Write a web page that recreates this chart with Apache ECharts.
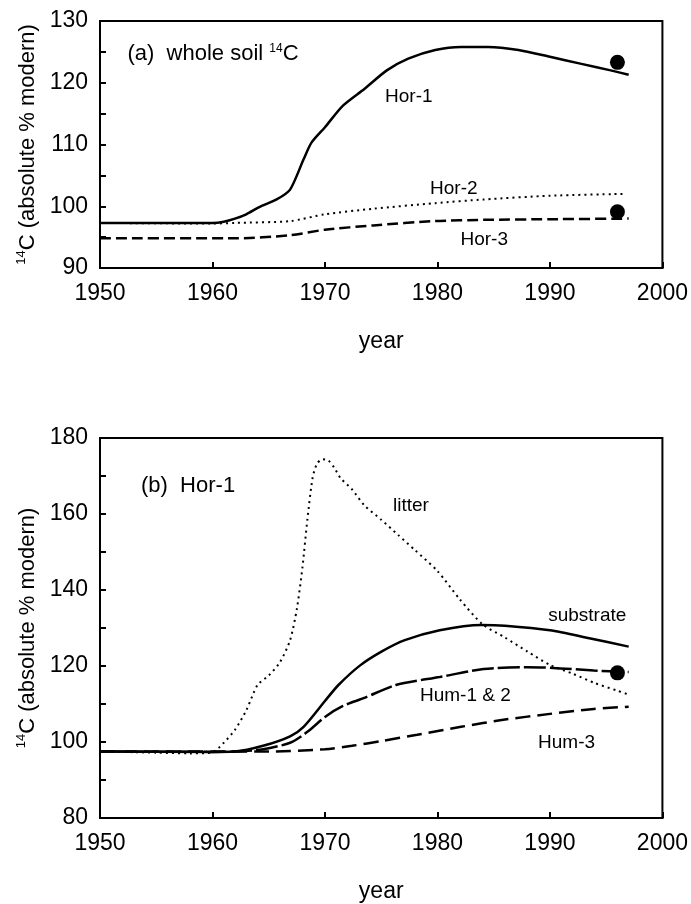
<!DOCTYPE html>
<html><head><meta charset="utf-8">
<script src="https://cdn.jsdelivr.net/npm/echarts@6/dist/echarts.min.js"></script>
<style>html,body{margin:0;padding:0;background:#fff}#c{width:691px;height:904px}</style>
</head><body><div id="c"></div>
<script>
// ---- Panel (a): whole soil 14C ----
var hor1X = [1950,1955,1960,1961,1962,1963,1964.2,1965.7,1966.9,1968.1,1968.8,1970,1971.6,1973.5,1975.5,1977.4,1979.8,1982.1,1984.5,1987.2,1990,1992.7,1995.4,1997];
var hor1Y = [97.3,97.3,97.3,97.5,98.0,98.7,99.9,101.1,102.7,107.6,110.3,112.8,116.3,119,122,123.9,125.3,125.8,125.8,125.3,124.2,123.1,122,121.3];
var hor2X = [1950,1960,1962,1966.9,1970,1974.3,1979.8,1984.1,1990,1996.5];
var hor2Y = [97.3,97.2,97.3,97.6,98.7,99.6,100.5,101.1,101.7,102.0];
var hor3X = [1950,1962,1966.9,1970,1974.3,1979.8,1984.1,1990,1997];
var hor3Y = [94.8,94.8,95.3,96.2,96.9,97.6,97.8,97.9,98.0];
var obsAX = [1996,1996];
var obsAY = [123.3,99.1];
var labelsA = [[1952.4,124.7,'(a)  whole soil {s|14}C','big'],[1975.3,117.8,'Hor-1','small'],[1979.3,102.8,'Hor-2','small'],[1982.0,94.6,'Hor-3','small']];

// ---- Panel (b): Hor-1 ----
var litX = [1950,1955,1958,1960,1961,1962,1963,1964,1965,1966,1966.9,1967.5,1968,1968.45,1968.9,1969.3,1969.8,1970.3,1970.8,1971.4,1972.4,1973.5,1975,1976.5,1978,1980,1982,1984,1986,1988,1990,1992,1994,1996,1997];
var litY = [97.5,97.2,97.0,97.3,99.8,103.2,108.3,115,117.5,121,126.8,135,146,158.9,169.5,173.3,174.4,174.1,172.3,169.4,166.5,162.3,158.5,154.5,150.5,145,137.5,131,127.5,123.8,120.3,118,115.5,113.5,112.5];
var subX = [1950,1960,1962,1964.5,1966.9,1968.1,1970,1971.2,1973.1,1975.1,1977.1,1980.2,1983.9,1986,1990,1993.5,1997];
var subY = [97.5,97.4,97.5,99.0,101.5,104,110.8,115,120.1,123.9,126.8,129.4,130.8,130.6,129.4,127.3,125.1];
var humX = [1950,1960,1962,1964.5,1966.9,1968.5,1970,1971.6,1973.5,1976.3,1980.2,1984.1,1988,1990.3,1993.9,1997];
var humY = [97.5,97.4,97.5,98.1,99.8,102.8,106.6,109.5,111.6,115,117.1,119.2,119.7,119.5,118.8,118.4];
var hum3X = [1950,1965,1970,1972.4,1975.1,1978.2,1982.1,1986,1990,1993.9,1997];
var hum3Y = [97.5,97.5,98.1,99.0,100.3,101.9,104,105.9,107.4,108.7,109.3];
var obsBX = [1996];
var obsBY = [118.2];
var labelsB = [[1953.6,167.3,'(b)  Hor-1','big'],[1976.0,162.1,'litter','small'],[1989.8,133.2,'substrate','small'],[1978.4,112.1,'Hum-1 & 2','small'],[1988.9,99.8,'Hum-3','small']];

var xTicks = {min:1950,max:2000,interval:10};
var yTicksA = {min:90,max:130,interval:10};
var yTicksB = {min:80,max:180,interval:20};

var FONT = "'Liberation Sans', Arial, Helvetica, sans-serif";
function zip(xs, ys){ return xs.map(function(x,i){ return [x, ys[i]]; }); }

function xAxisCfg(idx){
  return {
    type:'value', gridIndex:idx, min:xTicks.min, max:xTicks.max, interval:xTicks.interval,
    name:'year', nameLocation:'middle', nameGap:62,
    nameTextStyle:{fontFamily:FONT, fontSize:23, color:'#000'},
    axisLine:{show:true, onZero:false, lineStyle:{color:'#000', width:2}},
    axisTick:{show:true, inside:true, length:6, lineStyle:{color:'#000', width:2}},
    axisLabel:{fontFamily:FONT, fontSize:23, color:'#000', margin:14, formatter:function(v){ return String(v); }},
    splitLine:{show:false}
  };
}
function yAxisCfg(idx, t){
  return {
    type:'value', gridIndex:idx, min:t.min, max:t.max, interval:t.interval,
    name:'{s|14}{n|C (absolute % modern)}', nameLocation:'middle', nameGap:58, nameRotate:90,
    nameTextStyle:{fontFamily:FONT, color:'#000',
      rich:{s:{fontFamily:FONT, fontSize:13, color:'#000', verticalAlign:'top'},
            n:{fontFamily:FONT, fontSize:22, color:'#000', lineHeight:26}}},
    axisLine:{show:true, onZero:false, lineStyle:{color:'#000', width:2}},
    axisTick:{show:true, inside:true, length:6, lineStyle:{color:'#000', width:2}},
    minorTick:{show:true, splitNumber:2, length:6, lineStyle:{color:'#000', width:2}},
    axisLabel:{fontFamily:FONT, fontSize:23, color:'#000', margin:12, formatter:function(v){ return String(v); }},
    splitLine:{show:false}, minorSplitLine:{show:false}
  };
}
function lineSeries(idx, xs, ys, width, type){
  return {type:'line', xAxisIndex:idx, yAxisIndex:idx, data:zip(xs,ys), symbol:'none', smooth:0.25,
    lineStyle:{color:'#000', width:width, type:type, cap:'butt'}, z:3};
}
function dotSeries(idx, xs, ys){
  return {type:'scatter', xAxisIndex:idx, yAxisIndex:idx, data:zip(xs,ys), symbol:'circle', symbolSize:15,
    itemStyle:{color:'#000', opacity:1}, z:5};
}
function labelSeries(idx, arr){
  return {type:'scatter', xAxisIndex:idx, yAxisIndex:idx, symbolSize:1, itemStyle:{color:'rgba(0,0,0,0)'},
    data:arr.map(function(d){ return {value:[d[0],d[1]], name:d[2],
      label:{fontSize: d[3]==='big'?22:19}}; }),
    label:{show:true, position:'right', distance:0, fontFamily:FONT, color:'#000', opacity:1,
      formatter:function(p){ return p.name; },
      rich:{s:{fontFamily:FONT, fontSize:12, color:'#000', verticalAlign:'top'}}},
    z:6};
}

var chart = echarts.init(document.getElementById('c'), null, {renderer:'canvas'});
chart.setOption({
  animation:false,
  backgroundColor:'#fff',
  grid:[
    {left:100, right:27, top:21, height:247, show:true, borderColor:'#000', borderWidth:2, backgroundColor:'transparent'},
    {left:100, right:27, top:438, height:393, show:true, borderColor:'#000', borderWidth:2, backgroundColor:'transparent'}
  ],
  xAxis:[xAxisCfg(0), xAxisCfg(1)],
  yAxis:[yAxisCfg(0, yTicksA), yAxisCfg(1, yTicksB)],
  series:[
    lineSeries(0, hor1X, hor1Y, 2.5, 'solid'),
    lineSeries(0, hor2X, hor2Y, 2, [2,4]),
    lineSeries(0, hor3X, hor3Y, 2.5, [11,5]),
    dotSeries(0, obsAX, obsAY),
    labelSeries(0, labelsA),
    lineSeries(1, litX, litY, 2, [2,4]),
    lineSeries(1, subX, subY, 2.5, 'solid'),
    lineSeries(1, humX, humY, 2.5, [22,4]),
    lineSeries(1, hum3X, hum3Y, 2.5, [15,7]),
    dotSeries(1, obsBX, obsBY),
    labelSeries(1, labelsB)
  ]
});
</script></body></html>
